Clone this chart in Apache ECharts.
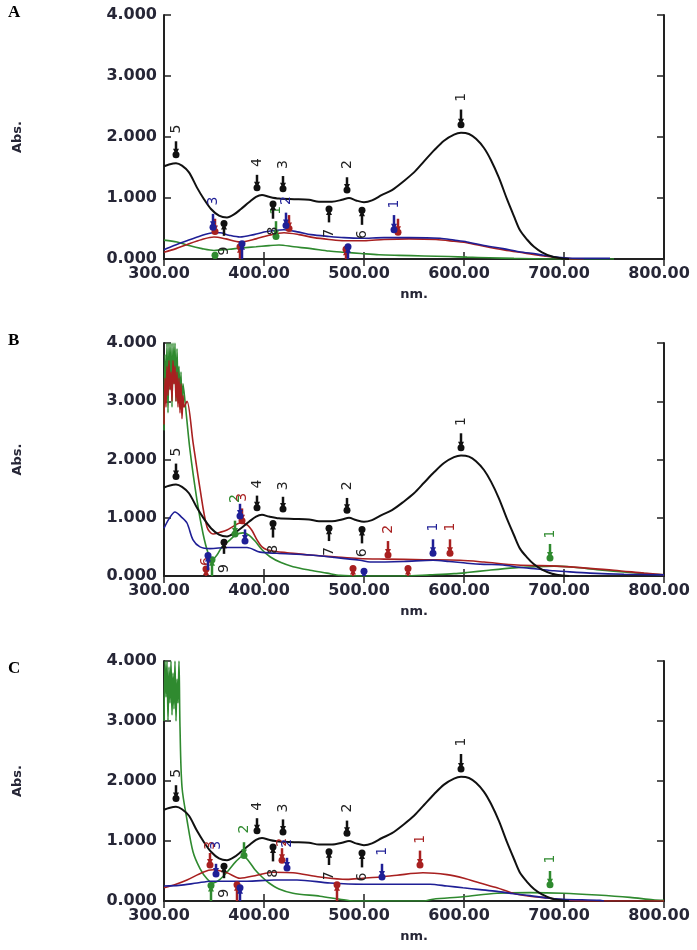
<!DOCTYPE html>
<html><head><meta charset="utf-8">
<script src="https://cdn.jsdelivr.net/npm/echarts@6.0.0/dist/echarts.min.js"></script>
<style>html,body{margin:0;padding:0;background:#fff}#c{width:697px;height:950px}</style>
</head><body><div id="c"></div><script>
// ---------- data (wavelength nm, absorbance) ----------
const xTicks = [300, 400, 500, 600, 700, 800];
const yTicks = [0, 1, 2, 3, 4];
const panelNames = ['A', 'B', 'C'];

const blackSpec = [[300,1.52],[305,1.55],[312,1.57],[318,1.53],[325,1.42],[333,1.17],[340,0.98],[347,0.82],[355,0.71],[363,0.68],[370,0.73],[377,0.82],[385,0.93],[392,1.02],[398,1.05],[405,1.02],[415,0.99],[430,0.98],[445,0.97],[455,0.94],[468,0.94],[478,0.97],[485,1.0],[492,0.96],[500,0.93],[508,0.96],[518,1.05],[528,1.13],[540,1.28],[550,1.42],[560,1.6],[570,1.78],[580,1.94],[590,2.04],[597,2.07],[605,2.05],[612,1.97],[620,1.82],[627,1.62],[635,1.33],[643,0.98],[650,0.7],[656,0.47],[663,0.32],[670,0.2],[678,0.11],[688,0.04],[698,0.01],[705,0]];

const aBlue = [[300,0.15],[310,0.22],[323,0.3],[335,0.37],[349,0.43],[356,0.43],[365,0.39],[376,0.36],[390,0.4],[403,0.45],[420,0.48],[435,0.44],[447,0.4],[465,0.37],[480,0.35],[497,0.34],[520,0.35],[545,0.35],[576,0.34],[590,0.31],[603,0.28],[620,0.22],[639,0.17],[655,0.12],[673,0.08],[688,0.04],[700,0.02],[715,0.01],[746,0.01]];
const aRed = [[300,0.11],[312,0.17],[325,0.25],[338,0.32],[350,0.36],[362,0.33],[376,0.28],[392,0.33],[405,0.39],[420,0.43],[435,0.4],[450,0.35],[465,0.32],[480,0.3],[500,0.3],[520,0.32],[545,0.33],[572,0.32],[590,0.29],[605,0.26],[620,0.21],[640,0.15],[660,0.1],[680,0.05],[700,0.01],[720,0]];
const aGreen = [[300,0.31],[313,0.28],[325,0.22],[338,0.17],[350,0.14],[365,0.16],[377,0.18],[392,0.2],[405,0.22],[415,0.23],[430,0.2],[447,0.17],[465,0.13],[480,0.11],[497,0.09],[515,0.07],[535,0.06],[560,0.05],[585,0.04],[603,0.03],[625,0.02],[650,0.01],[700,0],[750,0]];

const bBlue = [[300,0.82],[305,0.98],[311,1.1],[317,1.02],[323,0.91],[329,0.62],[336,0.5],[346,0.47],[363,0.49],[383,0.49],[396,0.41],[413,0.39],[446,0.36],[470,0.32],[496,0.27],[506,0.24],[540,0.25],[569,0.27],[585,0.25],[603,0.22],[620,0.2],[639,0.19],[655,0.15],[673,0.12],[690,0.09],[706,0.07],[726,0.05],[760,0.03],[800,0.02]];
const bRed = [[300,2.6],[301,3.4],[302,2.9],[303,3.6],[304,3.1],[305,3.7],[306,3.2],[307,3.5],[308,3.0],[309,3.7],[310,3.3],[311,3.6],[312,3.0],[313,3.5],[314,2.9],[315,3.4],[316,2.8],[317,3.3],[318,2.7],[319,3.1],[320,2.9],[323,3.0],[329,2.3],[336,1.5],[343,0.84],[349,0.72],[356,0.75],[363,0.79],[370,0.86],[376,0.91],[383,0.88],[388,0.78],[393,0.62],[398,0.5],[403,0.45],[412,0.42],[423,0.4],[446,0.36],[470,0.33],[495,0.3],[520,0.29],[560,0.28],[596,0.27],[620,0.24],[653,0.19],[693,0.17],[719,0.14],[750,0.1],[780,0.05],[800,0.02]];
const bGreen = [[300,2.5],[301,3.8],[302,3.0],[303,4.0],[304,2.8],[305,4.0],[306,3.2],[307,4.0],[308,2.9],[309,4.0],[310,3.3],[311,4.0],[312,3.0],[313,3.9],[314,3.2],[315,3.6],[316,2.9],[317,3.5],[318,2.8],[319,3.3],[321,3.0],[326,2.16],[333,1.3],[339,0.73],[344,0.4],[348,0.28],[353,0.36],[358,0.5],[366,0.62],[372,0.71],[379,0.74],[385,0.7],[391,0.6],[398,0.45],[406,0.33],[417,0.23],[429,0.16],[446,0.1],[463,0.05],[476,0.01],[500,0],[540,0],[566,0.02],[590,0.04],[603,0.06],[625,0.1],[650,0.14],[670,0.16],[690,0.17],[710,0.15],[733,0.11],[766,0.06],[790,0.03],[800,0.02]];

const cBlue = [[300,0.25],[315,0.26],[333,0.3],[347,0.33],[383,0.33],[410,0.35],[433,0.35],[466,0.3],[500,0.28],[533,0.28],[566,0.28],[583,0.25],[599,0.22],[616,0.19],[633,0.16],[650,0.12],[666,0.09],[683,0.05],[699,0.03],[736,0.01],[740,0]];
const cRed = [[300,0.22],[312,0.28],[323,0.35],[339,0.48],[349,0.52],[363,0.47],[376,0.38],[393,0.43],[409,0.48],[429,0.47],[456,0.4],[483,0.36],[499,0.38],[516,0.4],[533,0.43],[559,0.47],[583,0.44],[600,0.38],[616,0.3],[633,0.22],[649,0.13],[666,0.08],[683,0.05],[699,0.02],[720,0],[800,0]];
const cGreen = [[300,3.0],[301,4.0],[302,3.4],[303,4.0],[304,3.0],[305,3.9],[306,3.3],[307,4.0],[308,3.1],[309,3.8],[310,3.2],[311,4.0],[312,3.0],[313,3.7],[314,3.3],[315,4.0],[316,2.9],[318,1.9],[323,1.35],[329,0.82],[336,0.54],[343,0.37],[349,0.3],[356,0.36],[364,0.5],[372,0.66],[379,0.75],[385,0.66],[391,0.52],[398,0.4],[405,0.3],[415,0.2],[429,0.13],[456,0.08],[476,0.03],[490,0],[560,0],[569,0.03],[599,0.07],[633,0.13],[666,0.14],[699,0.13],[733,0.1],[766,0.06],[789,0.02],[800,0.01]];

// peak / valley pick marks: [nm, dot Abs, arrow-tail Abs, label Abs, label]
const blackMarks = [[312,1.71,1.93,2.13,'5'],[393,1.17,1.38,1.58,'4'],[419,1.15,1.36,1.55,'3'],[483,1.13,1.34,1.55,'2'],[597,2.2,2.45,2.65,'1'],
  [360,0.58,0.38,0.13,'9'],[409,0.9,0.66,0.46,'8'],[465,0.82,0.6,0.42,'7'],[498,0.8,0.56,0.4,'6']];
const aBlueMarks = [[349,0.52,0.74,0.95,'3'],[422,0.55,0.76,0.96,'2'],[530,0.48,0.72,0.9,'1'],[378,0.25,0,0,''],[484,0.2,0,0,'']];
const aRedMarks = [[351,0.45,0.66,0.95,''],[425,0.5,0.72,0.95,''],[534,0.44,0.66,0.9,''],[376,0.2,0,0,''],[482,0.16,0,0,'']];
const aGreenMarks = [[412,0.37,0.62,0.8,'1'],[351,0.06,0,0,'']];

const bBlueMarks = [[376,1.03,1.24,0,''],[381,0.6,0.8,0,''],[569,0.39,0.63,0.84,'1'],[344,0.35,0.1,0,''],[500,0.08,0,0,'']];
const bRedMarks = [[378,0.95,1.16,1.35,'3'],[524,0.36,0.6,0.8,'2'],[586,0.39,0.63,0.84,'1'],[342,0.12,0,0.25,'6'],[489,0.13,0,0,''],[544,0.13,0,0,'']];
const bGreenMarks = [[371,0.72,0.95,1.33,'2'],[686,0.31,0.55,0.72,'1'],[348,0.28,0,0,'']];

const cBlueMarks = [[352,0.45,0.62,0.93,'3'],[423,0.55,0.72,0.96,'2'],[518,0.4,0.62,0.83,'1'],[376,0.22,0,0,'']];
const cRedMarks = [[346,0.6,0.8,0.93,'3'],[418,0.68,0.88,0.98,'2'],[556,0.6,0.84,1.03,'1'],[373,0.27,0,0,''],[473,0.27,0,0,'']];
const cGreenMarks = [[380,0.76,0.98,1.2,'2'],[686,0.27,0.5,0.7,'1'],[347,0.26,0,0,'']];

// ---------- style ----------
const COL = {black:'#111111', blue:'#1f1f96', red:'#a82020', green:'#2f8a2f'};
const LBL = '#262636';
const grids = [{top:15, height:244}, {top:343, height:233}, {top:661, height:240}];

const panels = [
  {lines:[[aGreen,'green'],[aRed,'red'],[aBlue,'blue'],[blackSpec,'black']], marks:[[aGreenMarks,'green'],[aRedMarks,'red'],[aBlueMarks,'blue'],[blackMarks,'black']]},
  {lines:[[bGreen,'green'],[bRed,'red'],[bBlue,'blue'],[blackSpec,'black']], marks:[[bGreenMarks,'green'],[bRedMarks,'red'],[bBlueMarks,'blue'],[blackMarks,'black']]},
  {lines:[[cGreen,'green'],[cRed,'red'],[cBlue,'blue'],[blackSpec,'black']], marks:[[cGreenMarks,'green'],[cRedMarks,'red'],[cBlueMarks,'blue'],[blackMarks,'black']]}
];

const tickFont = {fontFamily:'DejaVu Sans', fontWeight:'bold', fontSize:16, color:LBL};
const axLine = {show:true, lineStyle:{color:'#222', width:2}};
const axTick = {show:true, inside:true, length:7, lineStyle:{color:'#222', width:1.5}};

const option = {animation:false, backgroundColor:'#fff', grid:[], xAxis:[], yAxis:[], series:[], graphic:[]};

function markSeries(marks, color, gi){
  return {type:'custom', xAxisIndex:gi*2, yAxisIndex:gi*2, z:5, clip:true,
    data: marks.map(m=>[m[0], m[1]]),
    renderItem:(params, api)=>{
      const m = marks[params.dataIndex];
      const d = api.coord([m[0], m[1]]), t = api.coord([m[0], m[2]]);
      const dir = t[1] < d[1] ? 1 : -1;
      const ch = [
        {type:'line', shape:{x1:t[0], y1:t[1], x2:d[0], y2:d[1]}, style:{stroke:color, lineWidth:2.5}},
        {type:'polygon', shape:{points:[[d[0], d[1]], [d[0]-3, d[1]-dir*6], [d[0]+3, d[1]-dir*6]]}, style:{fill:color}},
        {type:'circle', shape:{cx:d[0], cy:d[1], r:3.5}, style:{fill:color}}
      ];
      if (m[4]) {
        const l = api.coord([m[0], m[3]]);
        ch.push({type:'text', x:l[0], y:l[1], rotation:Math.PI/2,
          style:{text:m[4], fill: color===COL.black ? '#222' : color, font:'14px "DejaVu Sans"', align:'center', verticalAlign:'middle'}});
      }
      return {type:'group', children:ch};
    }};
}

panels.forEach((p, gi)=>{
  option.grid.push({left:164, right:33, top:grids[gi].top, height:grids[gi].height});
  option.xAxis.push({type:'value', gridIndex:gi, min:xTicks[0], max:xTicks[xTicks.length-1], interval:100, position:'bottom',
    axisLine:axLine, axisTick:axTick, splitLine:{show:false},
    axisLabel:Object.assign({margin:7, padding:[0,10,0,0], formatter:v=>v.toFixed(2)}, tickFont),
    name:'nm.', nameLocation:'middle', nameGap:29, nameTextStyle:{fontFamily:'DejaVu Sans', fontWeight:'bold', fontSize:13, color:LBL}});
  option.xAxis.push({type:'value', gridIndex:gi, min:xTicks[0], max:xTicks[xTicks.length-1], interval:100, position:'top',
    axisLine:axLine, axisTick:axTick, axisLabel:{show:false}, splitLine:{show:false}});
  option.yAxis.push({type:'value', gridIndex:gi, min:yTicks[0], max:yTicks[yTicks.length-1], interval:1, position:'left',
    axisLine:axLine, axisTick:axTick, splitLine:{show:false},
    axisLabel:Object.assign({margin:7, formatter:v=>v.toFixed(3)}, tickFont),
    name:'Abs.', nameLocation:'middle', nameRotate:90, nameGap:140, nameTextStyle:{fontFamily:'DejaVu Sans', fontWeight:'bold', fontSize:13, color:LBL}});
  option.yAxis.push({type:'value', gridIndex:gi, min:yTicks[0], max:yTicks[yTicks.length-1], interval:1, position:'right',
    axisLine:axLine, axisTick:axTick, axisLabel:{show:false}, splitLine:{show:false}});
  p.lines.forEach(([d, c])=>{
    option.series.push({type:'line', xAxisIndex:gi*2, yAxisIndex:gi*2, data:d, showSymbol:false, clip:true,
      smooth:0.3, lineStyle:{color:COL[c], width: c==='black'?2:1.6}, z: c==='black'?3:2});
  });
  p.marks.forEach(([m, c])=>option.series.push(markSeries(m, COL[c], gi)));
  option.graphic.push({type:'text', left:8, top:[4, 332, 660][gi],
    style:{text:panelNames[gi], font:'bold 17px "Liberation Serif"', fill:'#000'}});
});

const chart = echarts.init(document.getElementById('c'), null, {renderer:'canvas'});
chart.setOption(option);
</script></body></html>
